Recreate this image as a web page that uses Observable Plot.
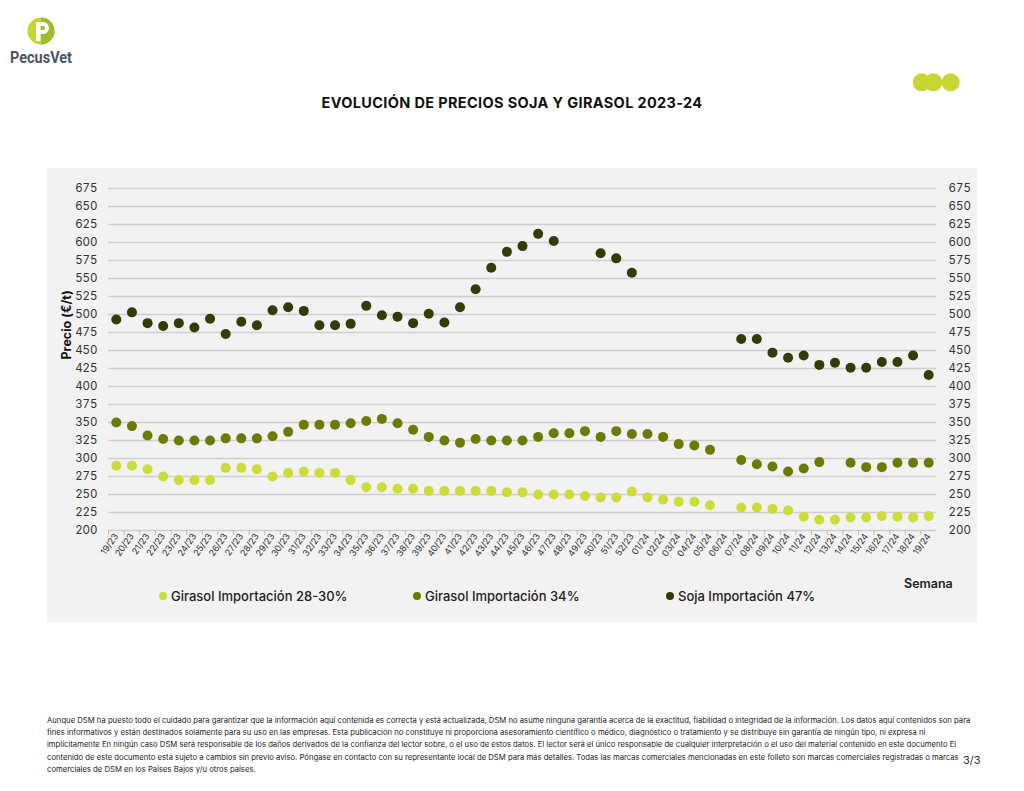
<!DOCTYPE html>
<html>
<head>
<meta charset="utf-8">
<script src="https://cdn.jsdelivr.net/npm/d3@7"></script>
<script src="https://cdn.jsdelivr.net/npm/@observablehq/plot@0.6"></script>
<style>
  html, body { margin: 0; padding: 0; background: #fff; }
  #page { position: relative; width: 1024px; height: 791px; overflow: hidden; font-family: Inter, "Noto Sans", sans-serif; color: #222; }
  .abs { position: absolute; white-space: nowrap; }
  #title { left: 0; width: 1024px; top: 94px; text-align: center; font-weight: 700; font-size: 14.5px; letter-spacing: 0.35px; color: #111; }
  #chartwrap { position: absolute; left: 47px; top: 168px; width: 930px; height: 454px; background: #f2f2f2; }
  .leg { font-size: 13px; font-weight: 500; color: #222; display: flex; align-items: center; }
  .leg span.d { width: 8px; height: 8px; border-radius: 50%; display: inline-block; margin-right: 4px; }
  #footer { left: 47px; top: 715px; font-size: 7.7px; line-height: 12.2px; color: #222; }
  #pn { left: 963px; top: 753px; font-size: 11px; color: #333; }
</style>
</head>
<body>
<div id="page">
  <svg class="abs" style="left:0;top:0" width="120" height="80">
    <circle cx="41" cy="31" r="13.5" fill="#c6d531"/>
    <path d="M41 17.5 A13.5 13.5 0 0 1 41 44.5 Z" fill="#98bf2d"/>
    <path d="M36 22 h7 a6 6 0 0 1 0 12 h-2.5 v7 h-4.5 Z M40.5 26 v4 h2.5 a2 2 0 0 0 0 -4 Z" fill="#fff" fill-rule="evenodd"/>
    <text x="10" y="63" textLength="62" lengthAdjust="spacingAndGlyphs" font-family="Roboto, sans-serif" font-weight="700" font-size="17" fill="#4b5662">PecusVet</text>
  </svg>
  <svg class="abs" style="left:900px;top:70px" width="70" height="26">
    <circle cx="21.7" cy="12.3" r="9" fill="#c9d532"/>
    <circle cx="33.3" cy="12.3" r="9" fill="#c9d532"/>
    <circle cx="50.7" cy="12.3" r="9" fill="#c9d532"/>
  </svg>
  <div id="title" class="abs">EVOLUCIÓN DE PRECIOS SOJA Y GIRASOL 2023-24</div>
  <div id="chartwrap"></div>
  <div id="legend"></div>
  <div id="footer" class="abs"></div>
  <div id="pn" class="abs">3/3</div>
</div>
<script>
const weeks = ["19/23","20/23","21/23","22/23","23/23","24/23","25/23","26/23","27/23","28/23","29/23","30/23","31/23","32/23","33/23","34/23","35/23","36/23","37/23","38/23","39/23","40/23","41/23","42/23","43/23","44/23","45/23","46/23","47/23","48/23","49/23","50/23","51/23","52/23","01/24","02/24","03/24","04/24","05/24","06/24","07/24","08/24","09/24","10/24","11/24","12/24","13/24","14/24","15/24","16/24","17/24","18/24","19/24"];

const girasol2830 = [290,290,285,275,270,270,270,287,287,285,275,280,282,280,280,270,260,260,258,258,255,255,255,255,255,253,253,250,250,250,248,246,246,254,246,243,240,240,235,null,232,232,230,228,219,215,215,218,218,220,219,218,220];

const girasol34 = [350,345,332,327,325,325,325,328,328,328,331,337,347,347,347,349,352,355,349,340,330,325,322,327,325,325,325,330,335,335,338,330,338,334,334,330,320,318,312,null,298,292,289,282,286,295,null,294,288,288,294,294,294];

const soja47 = [493,503,488,484,488,482,494,473,490,485,506,510,505,485,485,487,512,499,497,488,501,489,510,535,565,587,595,612,602,null,null,585,578,558,null,null,null,null,null,null,466,466,447,440,443,430,433,426,426,434,434,443,416];

const seriesNames = ["Girasol Importación 28-30%","Girasol Importación 34%","Soja Importación 47%"];
const seriesColors = ["#cedc3a","#6c7a04","#333b06"];
const yTicks = d3.range(200, 676, 25);

const seriesValues = [girasol2830, girasol34, soja47];
const rows = [];
seriesValues.forEach((vals, s) => vals.forEach((v, i) => {
  if (v != null) rows.push({week: weeks[i], value: v, serie: seriesNames[s]});
}));

const W = 930, H = 454, mL = 61, mR = 41, mT = 20, mB = 92;
const step = (W - mL - mR) / weeks.length;

const chart = Plot.plot({
  width: W, height: H,
  marginLeft: mL, marginRight: mR, marginTop: mT, marginBottom: mB,
  style: {background: "transparent", fontFamily: "Inter, 'Noto Sans', sans-serif", color: "#333"},
  x: {type: "band", domain: weeks, padding: 0, label: null},
  y: {domain: [200, 675], label: null},
  color: {domain: seriesNames, range: seriesColors},
  marks: [
    Plot.gridY(yTicks, {stroke: "#cfcfcf", strokeOpacity: 1, strokeWidth: 1.4}),
    Plot.axisY(yTicks, {anchor: "left", tickSize: 0, tickPadding: 11, fontSize: 11.5, label: null}),
    Plot.axisY(yTicks, {anchor: "right", tickSize: 0, tickPadding: 12, fontSize: 11.5, label: null}),
    Plot.axisX({tickSize: 5, tickFormat: () => "", dx: -step / 2, stroke: "#bdbdbd", label: null}),
    Plot.axisX({tickSize: 0, tickRotate: -55, tickPadding: 4, fontSize: 9, label: null}),
    Plot.text(["Precio (€/t)"], {frameAnchor: "left", rotate: -90, dx: -42, fontWeight: 700, fontSize: 12.5, fill: "#111"}),
    Plot.dot(rows, {x: "week", y: "value", fill: "serie", r: 5})
  ]
});
document.getElementById("chartwrap").appendChild(chart);

// legend
const legPos = [159, 413, 666];
const legend = document.getElementById("legend");
seriesNames.forEach((n, i) => {
  const el = document.createElement("div");
  el.className = "abs leg";
  el.style.left = legPos[i] + "px";
  el.style.top = "588px";
  el.innerHTML = `<span class="d" style="background:${seriesColors[i]}"></span>${n}`;
  legend.appendChild(el);
});
const sem = document.createElement("div");
sem.className = "abs";
sem.style.cssText = "left:904px;top:576px;font-size:12.5px;font-weight:600;color:#222";
sem.textContent = "Semana";
legend.appendChild(sem);

const footerLines = [
  "Aunque DSM ha puesto todo el cuidado para garantizar que la información aquí contenida es correcta y está actualizada, DSM no asume ninguna garantía acerca de la exactitud, fiabilidad o integridad de la información. Los datos aquí contenidos son para",
  "fines informativos y están destinados solamente para su uso en las empresas. Esta publicación no constituye ni proporciona asesoramiento científico o médico, diagnóstico o tratamiento y se distribuye sin garantía de ningún tipo, ni expresa ni",
  "implícitamente En ningún caso DSM será responsable de los daños derivados de la confianza del lector sobre, o el uso de estos datos. El lector será el único responsable de cualquier interpretación o el uso del material contenido en este documento El",
  "contenido de este documento está sujeto a cambios sin previo aviso. Póngase en contacto con su representante local de DSM para más detalles. Todas las marcas comerciales mencionadas en este folleto son marcas comerciales registradas o marcas",
  "comerciales de DSM en los Países Bajos y/u otros países."
];
document.getElementById("footer").innerHTML = footerLines.map(l => `<div>${l}</div>`).join("");
</script>
</body>
</html>
